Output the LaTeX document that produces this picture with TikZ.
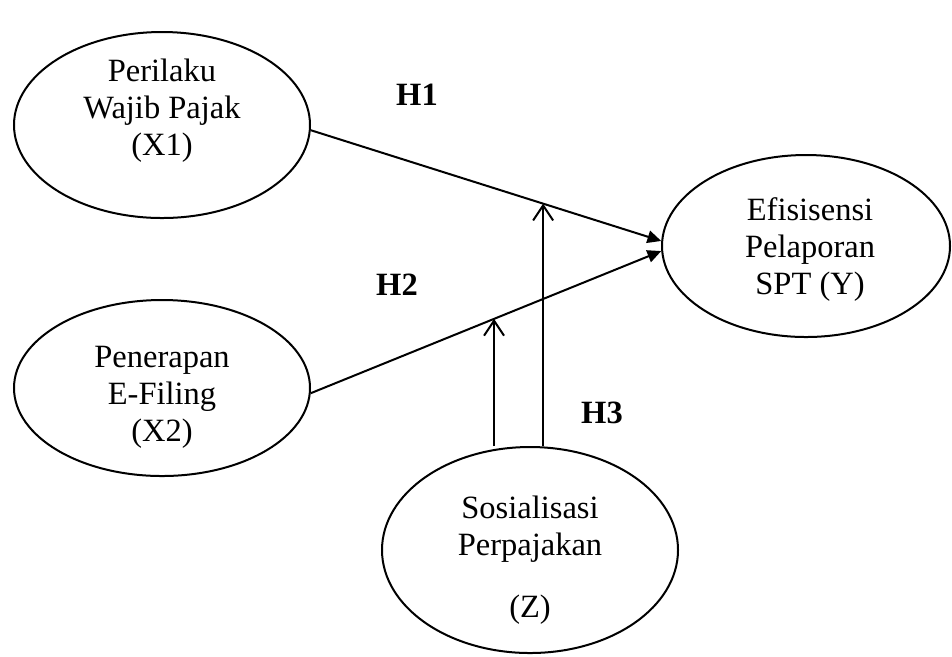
\documentclass[tikz,border=0pt]{standalone}
\usepackage{fontspec}
\setmainfont{Liberation Serif}
\usetikzlibrary{positioning, shapes, arrows.meta}

\begin{document}
\begin{tikzpicture}[x=0.4pt, y=-0.4pt,
  every node/.style={align=center, font=\fontsize{13}{14.8}\selectfont},
  var/.style={ellipse, draw, line width=0.8pt, inner sep=0pt},
  vartext/.style={inner sep=0pt},
  hyp/.style={font=\fontsize{13}{14.8}\selectfont\bfseries},
  effect/.style={line width=0.8pt, -{Triangle[length=5.5pt, width=5pt]}},
  moderate/.style={line width=0.8pt, -{Straight Barb[length=6pt, width=8pt]}}
]
\useasboundingbox (0,0) rectangle (952,656);

% Variables
\node[var, minimum width=118.4pt, minimum height=74.4pt] (x1) at (162,125) {};
\node[vartext] (x1txt) at (162,111) {Perilaku\\Wajib Pajak\\(X1)};

\node[var, minimum width=118.4pt, minimum height=70.4pt] (x2) at (162,388) {};
\node[vartext] (x2txt) at (162,397) {Penerapan\\E-Filing\\(X2)};

\node[var, minimum width=115.2pt, minimum height=72.8pt] (y) at (806,246) {};
\node[vartext] (ytxt) at (810,250) {Efisisensi\\Pelaporan\\SPT (Y)};

\node[var, minimum width=118.4pt, minimum height=82.4pt] (z) at (530,550) {};
\node[vartext] (ztxt) at (530,560) {Sosialisasi\\Perpajakan\\[10pt](Z)};

% Direct effects
\draw[effect] (x1.-2) -- coordinate[pos=0.663] (m1) (y.178);
\draw[effect] (x2.-2) -- coordinate[pos=0.523] (m2) (y.182);

% Moderation
\draw[moderate] (m1 |- z.north) -- (m1);
\draw[moderate] (m2 |- z.north) -- (m2);

% Hypotheses
\node[hyp] (h1) at (417,95) {H1};
\node[hyp] (h2) at (397,285) {H2};
\node[hyp] (h3) at (602,413) {H3};

\end{tikzpicture}
\end{document}
